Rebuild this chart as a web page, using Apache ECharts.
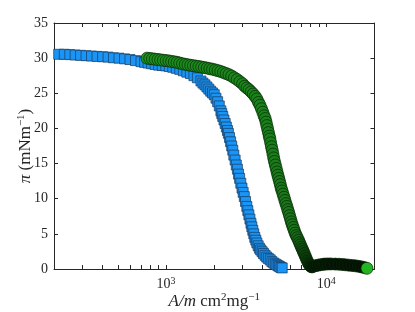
<!DOCTYPE html>
<html><head><meta charset="utf-8">
<script src="https://cdn.jsdelivr.net/npm/echarts@6/dist/echarts.min.js"></script>
<style>html,body{margin:0;padding:0;background:#fff}#c{width:415px;height:312px}</style>
</head><body><div id="c"></div>
<script>
// ---- data ----
const blueArea = [214,232,251,271,293,317,343,371,402,435,470,509,551,596,645,698,735,773,813,855,900,947,996,1048,1102,1159,1219,1283,1349,1419,1493,1570,1652,1700,1750,1800,1850,1900,1950,2000,2050,2100,2150,2200,2229,2260,2300,2340,2380,2420,2450,2490,2530,2570,2610,2650,2700,2745,2790,2835,2880,2929,2980,3030,3080,3135,3193,3240,3290,3340,3390,3433,3480,3530,3580,3635,3690,3760,3830,3900,3980,4058,4150,4250,4350,4467,4580,4700,4810,4920,5020,5120,5220,5310];
const bluePi = [30.55,30.55,30.5,30.45,30.4,30.35,30.3,30.25,30.2,30.15,30.05,30.0,29.9,29.8,29.65,29.5,29.4,29.3,29.2,29.1,29.0,28.95,28.9,28.8,28.7,28.55,28.4,28.2,28.0,27.8,27.5,27.2,26.75,26.45,26.2,25.9,25.6,25.3,25.05,24.8,24.3,23.8,23.2,22.5,22.1,21.7,21.2,20.7,20.2,19.7,19.3,18.7,18.1,17.5,16.9,16.2,15.5,14.8,14.2,13.5,12.9,12.2,11.5,10.9,10.3,9.6,8.9,8.3,7.7,7.1,6.5,6.0,5.5,5.0,4.5,4.1,3.7,3.3,2.95,2.7,2.45,2.2,1.95,1.7,1.5,1.3,1.05,0.85,0.7,0.57,0.45,0.33,0.22,0.15];
const greenArea = [761,792,823,856,891,926,963,1002,1042,1084,1127,1172,1219,1268,1319,1371,1426,1483,1543,1604,1669,1735,1805,1877,1952,2030,2111,2196,2284,2375,2470,2569,2672,2779,2890,3005,3100,3200,3300,3400,3500,3600,3690,3780,3860,3940,4020,4090,4156,4210,4260,4310,4360,4410,4450,4500,4550,4600,4650,4700,4750,4810,4870,4930,4990,5050,5110,5170,5232,5300,5375,5450,5525,5600,5679,5750,5825,5900,5980,6055,6133,6220,6310,6400,6500,6600,6714,6810,6900,7000,7100,7190,7287,7390,7500,7620,7745,7850,7950,8050,8140,8350,8600,8913,9250,9600,9855,10250,10700,11380,12000,12600,13140,13800,14500,15180,15900,16600,17300,17950];
const greenPi = [30.0,29.95,29.9,29.85,29.8,29.75,29.7,29.65,29.6,29.53,29.47,29.4,29.3,29.2,29.12,29.05,28.98,28.92,28.86,28.8,28.73,28.66,28.58,28.5,28.42,28.32,28.22,28.1,27.95,27.8,27.65,27.45,27.2,26.95,26.65,26.35,26.0,25.75,25.5,25.2,24.9,24.55,24.2,23.7,23.3,22.8,22.3,21.8,21.4,20.9,20.4,19.9,19.4,18.9,18.5,17.95,17.4,16.9,16.35,15.8,15.3,14.8,14.3,13.8,13.35,12.9,12.45,12.0,11.5,11.1,10.65,10.2,9.75,9.3,8.9,8.45,8.05,7.6,7.15,6.7,6.3,5.9,5.5,5.1,4.75,4.45,4.1,3.75,3.45,3.1,2.8,2.5,2.2,1.85,1.5,1.15,0.8,0.6,0.45,0.35,0.3,0.4,0.48,0.55,0.62,0.67,0.7,0.72,0.72,0.7,0.68,0.64,0.6,0.55,0.5,0.45,0.38,0.3,0.2,0.1];
const xLabelValues = [1000, 10000];
const xTickValues = [300,400,500,600,700,800,900,1000,2000,3000,4000,5000,6000,7000,8000,9000,10000];
const yTicks = [0,5,10,15,20,25,30,35];

// ---- chart ----
const serif = 'Liberation Serif';
const axisCol = '#262626';
const blueData = blueArea.map((a, i) => [a, bluePi[i]]);
const greenData = greenArea.map((a, i) => [a, greenPi[i]]);
const nG = greenData.length;
function greenColor(i) {
  if (i === nG - 1) return '#22b522';
  const t = i / (nG - 1);
  let f;
  if (t <= 0.7) f = 1 - 0.2 * t / 0.7;
  else if (t <= 0.85) f = 0.8 - 0.65 * (t - 0.7) / 0.15;
  else f = 0.15 - 0.05 * (t - 0.85) / 0.15;
  return 'rgb(' + Math.round(30 * f) + ',' + Math.round(145 * f) + ',' + Math.round(30 * f) + ')';
}
const xCommon = {
  type: 'log', logBase: 10, min: 200, max: 20000,
  splitLine: { show: false },
  axisLine: { onZero: false, lineStyle: { color: axisCol, width: 1 } },
  axisTick: { inside: true, length: 4, customValues: xTickValues, lineStyle: { color: axisCol, width: 1 } },
  minorTick: { show: false }
};
const yCommon = {
  type: 'value', min: yTicks[0], max: yTicks[yTicks.length - 1], interval: 5,
  splitLine: { show: false },
  axisLine: { show: true, onZero: false, lineStyle: { color: axisCol, width: 1 } },
  axisTick: { show: true, inside: true, length: 4, lineStyle: { color: axisCol, width: 1 } }
};
const nameRich = {
  it: { fontFamily: serif, fontSize: 17, fontStyle: 'italic', color: axisCol, lineHeight: 20 },
  sup: { fontFamily: serif, fontSize: 11, color: axisCol, verticalAlign: 'top', lineHeight: 11 }
};
const option = {
  animation: false,
  grid: { left: 54, right: 40.5, top: 23, bottom: 43, containLabel: false, outerBoundsMode: 'none' },
  xAxis: [
    Object.assign({}, xCommon, {
      position: 'bottom',
      axisLabel: {
        customValues: xLabelValues, margin: 7, color: axisCol, fontFamily: serif, fontSize: 14,
        formatter: v => '{b|10}{sup|' + Math.round(Math.log10(v)) + '}',
        rich: {
          b: { fontFamily: serif, fontSize: 14, color: axisCol, lineHeight: 17 },
          sup: { fontFamily: serif, fontSize: 10, color: axisCol, verticalAlign: 'top', lineHeight: 10 }
        }
      },
      name: '{it|A/m} cm{sup|2}mg{sup|−1}',
      nameLocation: 'middle', nameGap: 23, nameMoveOverlap: false,
      nameTextStyle: { fontFamily: serif, fontSize: 17, color: axisCol, lineHeight: 20, rich: nameRich }
    }),
    Object.assign({}, xCommon, { position: 'top', axisLabel: { show: false } })
  ],
  yAxis: [
    Object.assign({}, yCommon, {
      position: 'left',
      axisLabel: { margin: 6, color: axisCol, fontFamily: serif, fontSize: 14 },
      name: '{it|π} (mNm{sup|−1})',
      nameLocation: 'middle', nameGap: 18, nameMoveOverlap: false,
      nameTextStyle: { fontFamily: serif, fontSize: 17, color: axisCol, lineHeight: 20, rich: nameRich }
    }),
    Object.assign({}, yCommon, { position: 'right', axisLabel: { show: false } })
  ],
  series: [
    {
      type: 'scatter', data: blueData, symbol: 'rect', symbolSize: 10, z: 2,
      itemStyle: { color: '#1a95f5', borderColor: '#173a5e', borderWidth: 0.7, opacity: 1 }
    },
    {
      type: 'scatter', data: greenData, symbol: 'circle', symbolSize: 12, z: 3,
      itemStyle: { color: p => greenColor(p.dataIndex), borderColor: '#062806', borderWidth: 0.7, opacity: 1 }
    }
  ]
};
const chart = echarts.init(document.getElementById('c'));
chart.setOption(option);
</script>
</body></html>
